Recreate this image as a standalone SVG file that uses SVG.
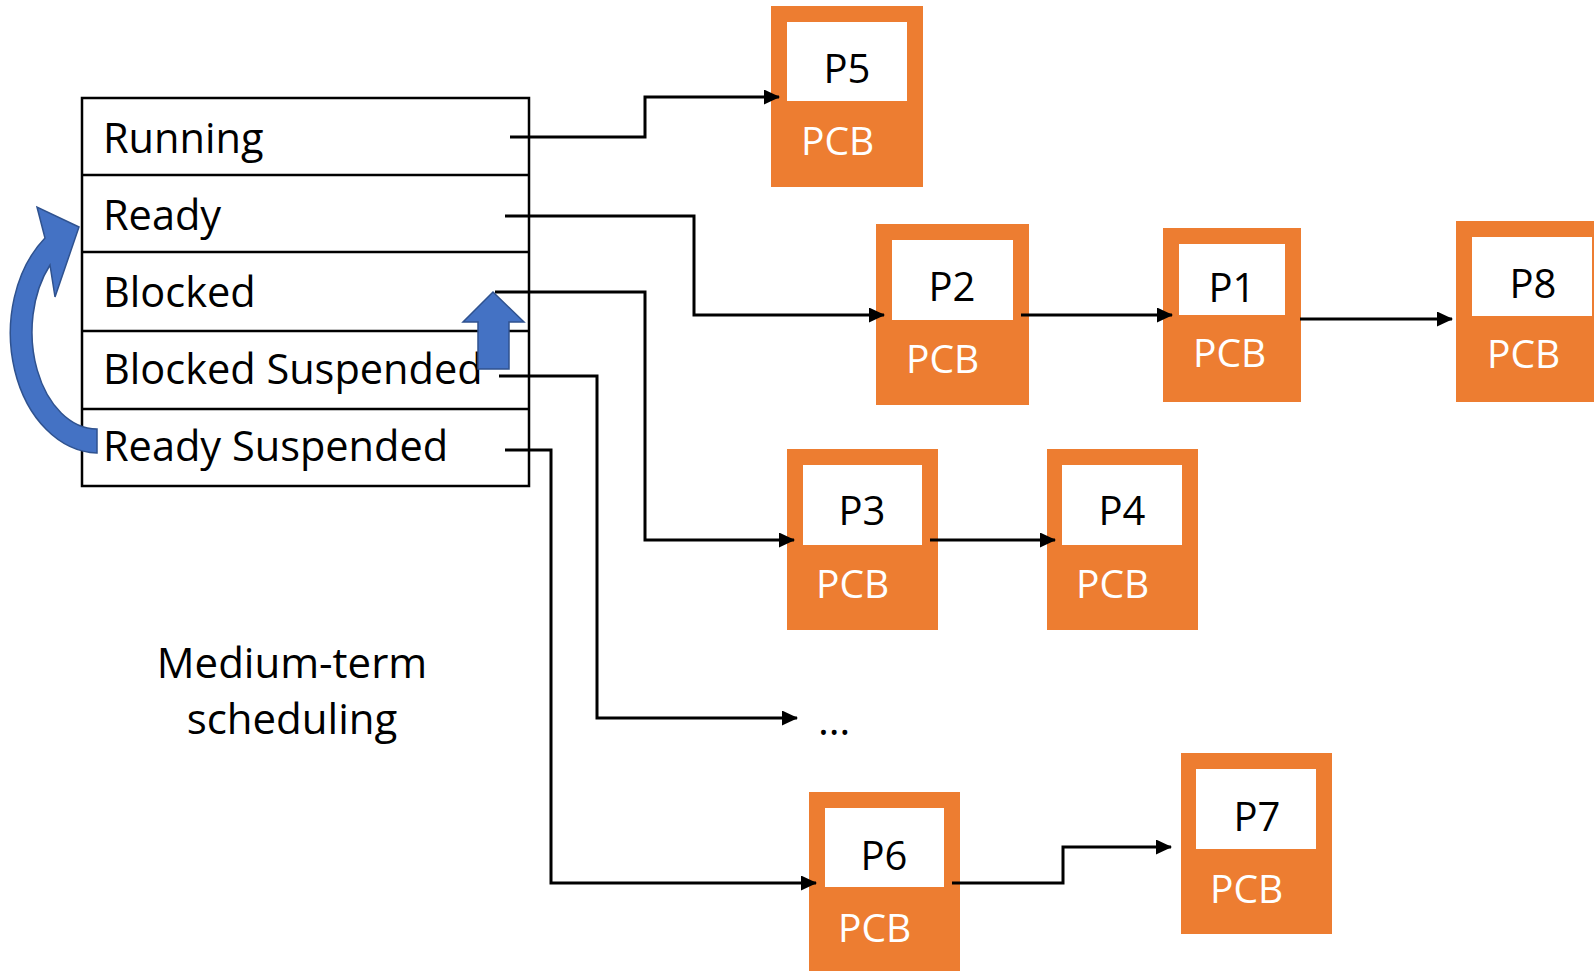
<svg xmlns="http://www.w3.org/2000/svg" width="1594" height="971" viewBox="0 0 1594 971">
<style>
  .lbl { font-family: "Open Sans", "Liberation Sans", sans-serif; font-size: 41.5px; fill: #000; }
  .cap { font-family: "Open Sans", "Liberation Sans", sans-serif; font-size: 42px; fill: #000; text-anchor: middle; }
  .pn { font-family: "Open Sans", "Liberation Sans", sans-serif; font-size: 40px; fill: #000; text-anchor: middle; }
  .pcb { font-family: "Open Sans", "Liberation Sans", sans-serif; font-size: 39px; fill: #fff; }
  .org { fill: #ED7D31; }
  .wht { fill: #fff; }
  .conn { fill: none; stroke: #000; stroke-width: 3; marker-end: url(#ah); }
  .tbl { fill: none; stroke: #000; stroke-width: 2.5; }
  .blue { fill: #4472C4; stroke: #2F528F; stroke-width: 1.5; stroke-linejoin: miter; }
</style>
<defs>
  <marker id="ah" markerUnits="userSpaceOnUse" markerWidth="17" markerHeight="16" refX="15" refY="7.5" orient="auto">
    <path d="M0,0 L16,7.5 L0,15 Z" fill="#000"/>
  </marker>
</defs>
<rect width="1594" height="971" fill="#fff"/>

<g id="state-table">
  <rect class="tbl" x="82" y="98" width="447" height="388"/>
  <line class="tbl" x1="82" y1="175" x2="529" y2="175"/>
  <line class="tbl" x1="82" y1="252" x2="529" y2="252"/>
  <line class="tbl" x1="82" y1="331" x2="529" y2="331"/>
  <line class="tbl" x1="82" y1="409" x2="529" y2="409"/>
  <text class="lbl" x="103" y="153">Running</text>
  <text class="lbl" x="103" y="230">Ready</text>
  <text class="lbl" x="103" y="307">Blocked</text>
  <text class="lbl" x="103" y="384">Blocked Suspended</text>
  <text class="lbl" x="103" y="461">Ready Suspended</text>
</g>

<g id="P5">
  <rect class="org" x="771" y="6" width="152" height="181"/>
  <rect class="wht" x="787" y="22" width="120" height="79"/>
  <text class="pn" x="847" y="83">P5</text>
  <text class="pcb" x="801" y="155">PCB</text>
</g>
<g id="P2">
  <rect class="org" x="876" y="224" width="153" height="181"/>
  <rect class="wht" x="892" y="240" width="121" height="80"/>
  <text class="pn" x="952" y="301">P2</text>
  <text class="pcb" x="906" y="373">PCB</text>
</g>
<g id="P1">
  <rect class="org" x="1163" y="228" width="138" height="174"/>
  <rect class="wht" x="1179" y="244" width="106" height="71"/>
  <text class="pn" x="1232" y="302">P1</text>
  <text class="pcb" x="1193" y="367">PCB</text>
</g>
<g id="P8">
  <rect class="org" x="1456" y="221" width="154" height="181"/>
  <rect class="wht" x="1472" y="237" width="120" height="79"/>
  <text class="pn" x="1533" y="298">P8</text>
  <text class="pcb" x="1487" y="368">PCB</text>
</g>
<g id="P3">
  <rect class="org" x="787" y="449" width="151" height="181"/>
  <rect class="wht" x="803" y="465" width="119" height="80"/>
  <text class="pn" x="862" y="525">P3</text>
  <text class="pcb" x="816" y="598">PCB</text>
</g>
<g id="P4">
  <rect class="org" x="1047" y="449" width="151" height="181"/>
  <rect class="wht" x="1062" y="465" width="120" height="80"/>
  <text class="pn" x="1122" y="525">P4</text>
  <text class="pcb" x="1076" y="598">PCB</text>
</g>
<g id="P6">
  <rect class="org" x="809" y="792" width="151" height="183"/>
  <rect class="wht" x="825" y="808" width="119" height="79"/>
  <text class="pn" x="884" y="870">P6</text>
  <text class="pcb" x="838" y="942">PCB</text>
</g>
<g id="P7">
  <rect class="org" x="1181" y="753" width="151" height="181"/>
  <rect class="wht" x="1196" y="769" width="120" height="80"/>
  <text class="pn" x="1257" y="831">P7</text>
  <text class="pcb" x="1210" y="903">PCB</text>
</g>

<g id="connectors">
  <path class="conn" d="M510,137 H645 V97 H779"/>
  <path class="conn" d="M505,216 H694 V315 H884"/>
  <path class="conn" d="M495,292 H645 V540 H794"/>
  <path class="conn" d="M499,376 H597 V718 H797"/>
  <path class="conn" d="M505,450 H551 V883 H816"/>
  <path class="conn" d="M1021,315 H1172"/>
  <path class="conn" d="M1300,319 H1452"/>
  <path class="conn" d="M930,540 H1055"/>
  <path class="conn" d="M952,883 H1063 V847 H1171"/>
</g>

<g id="curved-arrow">
  <path class="blue" d="M79,227 L37,207 L45,238 A89,120 0 0,0 97,453 L97,429 A65,97 0 0,1 50,265 L55,297 Z"/>
</g>
<g id="up-arrow">
  <path class="blue" d="M493,292 L524,322 L509,322 L509,369 L478,369 L478,322 L463,322 Z"/>
</g>

<g id="ellipsis">
  <text class="lbl" x="818" y="735" font-size="38">…</text>
</g>
<g id="caption">
  <text class="cap" x="292" y="678">Medium-term</text>
  <text class="cap" x="292" y="734">scheduling</text>
</g>
</svg>
